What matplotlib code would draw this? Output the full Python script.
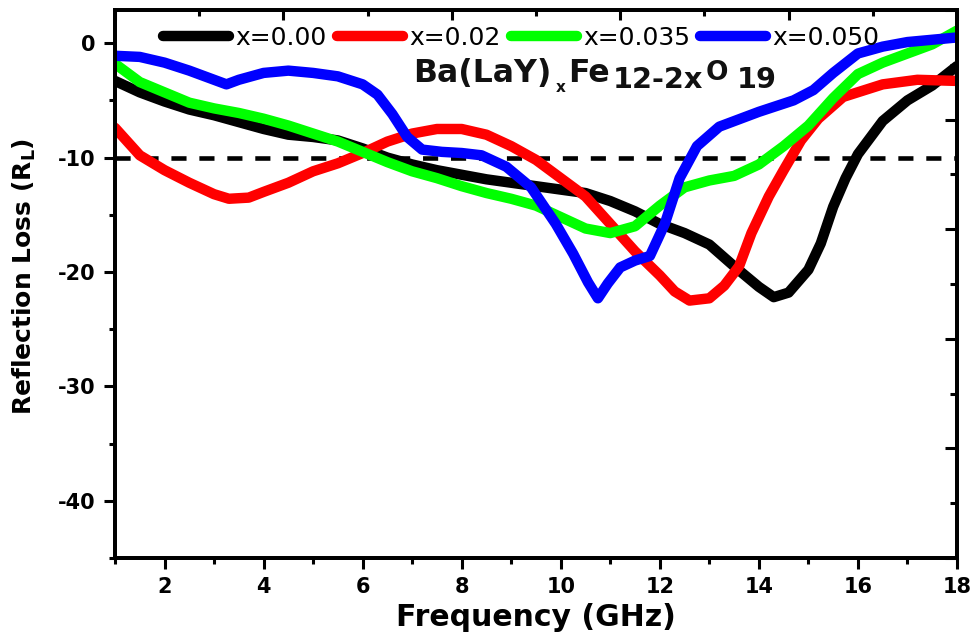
import matplotlib
matplotlib.use("Agg")
import matplotlib.pyplot as plt
from matplotlib.ticker import MultipleLocator, NullFormatter

plt.rcParams["font.family"] = ["DejaVu Sans"]
plt.rcParams["axes.unicode_minus"] = False

# Reflection loss (dB) versus frequency (GHz) for Ba(LaY)xFe12-2xO19
freq_000 = [1, 1.5, 2, 2.5, 3, 3.5, 4, 4.5, 5, 5.5, 6, 6.5, 7, 7.5, 8, 8.5, 9, 9.5,
            10, 10.5, 11, 11.5, 12, 12.5, 13, 13.5, 14, 14.3, 14.6, 15, 15.25, 15.5,
            15.75, 16, 16.5, 17, 17.5, 18]
rl_000 = [-3.3, -4.3, -5.1, -5.8, -6.3, -6.9, -7.5, -8.0, -8.2, -8.5, -9.2, -10.0,
          -10.6, -11.1, -11.5, -11.9, -12.2, -12.5, -12.8, -13.1, -13.8, -14.7, -15.8,
          -16.6, -17.6, -19.5, -21.3, -22.2, -21.8, -19.8, -17.5, -14.3, -11.8, -9.7,
          -6.8, -5.0, -3.7, -2.0]

freq_002 = [1, 1.5, 2, 2.5, 3, 3.3, 3.7, 4, 4.5, 5, 5.5, 6, 6.5, 7, 7.5, 8, 8.5, 9,
            9.5, 10, 10.5, 11, 11.5, 12, 12.3, 12.6, 13, 13.3, 13.6, 13.85, 14.2, 14.5,
            14.85, 15.2, 15.7, 16.5, 17.2, 18]
rl_002 = [-7.4, -9.8, -11.1, -12.2, -13.2, -13.6, -13.5, -13.0, -12.2, -11.2, -10.5,
          -9.6, -8.6, -7.9, -7.5, -7.5, -8.0, -9.0, -10.2, -11.8, -13.4, -15.8, -18.2,
          -20.3, -21.7, -22.5, -22.3, -21.2, -19.5, -16.6, -13.4, -11.1, -8.5, -6.6,
          -4.7, -3.6, -3.2, -3.3]

freq_0035 = [1, 1.5, 2, 2.5, 3, 3.5, 4, 4.5, 5, 5.5, 6, 6.5, 7, 7.5, 8, 8.5, 9, 9.5,
             10, 10.5, 11, 11.5, 12, 12.5, 13, 13.5, 14, 14.5, 15, 15.5, 16, 16.5, 17,
             17.5, 18]
rl_0035 = [-1.8, -3.4, -4.3, -5.2, -5.7, -6.1, -6.6, -7.2, -7.9, -8.6, -9.5, -10.4,
           -11.2, -11.8, -12.5, -13.1, -13.6, -14.2, -15.2, -16.2, -16.6, -16.0, -14.2,
           -12.6, -12.0, -11.6, -10.6, -9.0, -7.2, -4.8, -2.7, -1.7, -0.9, -0.1, 1.1]

freq_0050 = [1, 1.5, 2, 2.5, 3, 3.25, 3.5, 4, 4.5, 5, 5.5, 6, 6.3, 6.6, 6.9, 7.2, 7.6,
             8, 8.4, 8.9, 9.4, 9.9, 10.25, 10.55, 10.75, 10.95, 11.2, 11.5, 11.8, 12.1,
             12.4, 12.75, 13.2, 14, 14.7, 15.1, 15.5, 16, 16.5, 17, 17.5, 18]
rl_0050 = [-1.1, -1.2, -1.7, -2.4, -3.2, -3.6, -3.2, -2.6, -2.4, -2.6, -2.9, -3.6,
           -4.5, -6.2, -8.2, -9.3, -9.5, -9.6, -9.8, -10.8, -12.6, -15.8, -18.4, -20.9,
           -22.3, -21.0, -19.6, -19.0, -18.6, -15.8, -11.8, -9.0, -7.3, -6.0, -5.0,
           -4.1, -2.6, -0.9, -0.3, 0.1, 0.3, 0.5]

series_labels = ["x=0.00", "x=0.02", "x=0.035", "x=0.050"]
series_colors = ["#000000", "#ff0000", "#00ff00", "#0000ff"]
threshold_db = -10
x_ticks = [2, 4, 6, 8, 10, 12, 14, 16, 18]
y_ticks = [0, -10, -20, -30, -40]

W, H = 978, 632
fig = plt.figure(figsize=(W / 100, H / 100), dpi=100)
ax = fig.add_axes([115 / W, 74 / H, 842 / W, 548 / H])

series = [(freq_000, rl_000), (freq_002, rl_002), (freq_0035, rl_0035), (freq_0050, rl_0050)]
for (fx, fy), lab, col in zip(series, series_labels, series_colors):
    ax.plot(fx, fy, color=col, lw=7.5, label=lab, solid_joinstyle="round",
            solid_capstyle="round")

ax.axhline(threshold_db, color="black", lw=3.3, dashes=(3.3, 2.8), zorder=1)

ax.set_xlim(1, 18)
ax.set_ylim(-45, 2.9)
ax.set_xticks(x_ticks)
ax.set_yticks(y_ticks)
ax.xaxis.set_minor_locator(MultipleLocator(1))
ax.yaxis.set_minor_locator(MultipleLocator(5))
ax.tick_params(which="both", direction="out", width=2.2, labelsize=15, pad=6,
               top=False, right=False)
ax.tick_params(which="major", length=8)
ax.tick_params(which="minor", length=4.5)
for lbl in ax.get_xticklabels() + ax.get_yticklabels():
    lbl.set_fontweight("bold")
for sp in ax.spines.values():
    sp.set_linewidth(2.6)

ax.set_xlabel("Frequency (GHz)", fontsize=21.5, fontweight="bold", labelpad=4)
ax.set_ylabel(r"Reflection Loss (R$_\mathbf{L}$)", fontsize=18, fontweight="bold")
ax.yaxis.set_label_coords(-(115 - 38) / 842, (558 - 276) / 548)

# secondary scale: inward ticks on top and right, no labels
axt = ax.twiny()
axt.set_xlim(0, 10)
axt.xaxis.set_major_locator(MultipleLocator(2))
axt.xaxis.set_minor_locator(MultipleLocator(1))
axt.tick_params(which="both", direction="in", width=2.2, labeltop=False, top=True)
axt.tick_params(which="major", length=7)
axt.tick_params(which="minor", length=4)
axt.xaxis.set_major_formatter(NullFormatter())

axr = ax.twinx()
axr.set_ylim(0, 10)
axr.yaxis.set_major_locator(MultipleLocator(2))
axr.yaxis.set_minor_locator(MultipleLocator(1))
axr.tick_params(which="both", direction="in", width=2.2, labelright=False, right=True)
axr.tick_params(which="major", length=9)
axr.tick_params(which="minor", length=5)
axr.yaxis.set_major_formatter(NullFormatter())
for a in (axt, axr):
    for sp in a.spines.values():
        sp.set_linewidth(2.6)

leg = ax.legend(loc="center left", bbox_to_anchor=(0.057, 0.949), ncol=4,
                frameon=False, fontsize=18, handlelength=2.65, handletextpad=0.25,
                columnspacing=0.4, borderpad=0, borderaxespad=0)
for h in leg.get_lines():
    h.set_linewidth(7.5)
    h.set_solid_capstyle("round")

# compound formula label, pieces placed on their own baselines
pieces = [
    ("Ba(LaY)", 413, 82, 22.7),
    ("x", 556, 92, 11),
    ("Fe", 568, 82, 22.7),
    ("12-2x", 613, 88, 20.7),
    ("O", 706, 80, 19),
    ("19", 737, 88, 20.7),
]
for txt, px, py, fs in pieces:
    fig.text(px / W, 1 - py / H, txt, fontsize=fs, fontweight="bold",
             ha="left", va="baseline", color="#111111")

fig.savefig("out.png", dpi=100)
